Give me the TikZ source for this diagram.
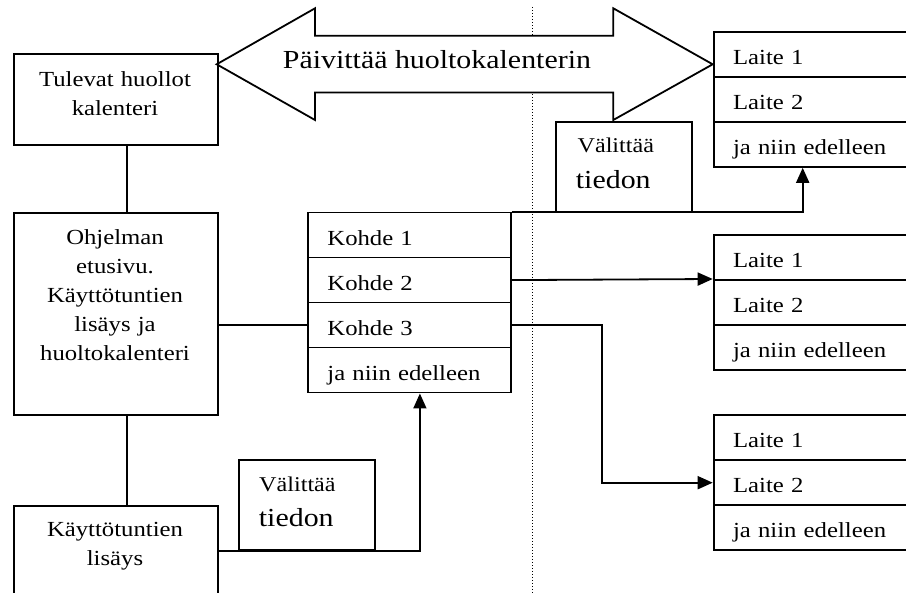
\documentclass[tikz,border=0pt]{standalone}
\usepackage{fontspec}
\setmainfont[FakeStretch=1.15]{Liberation Serif}
\usetikzlibrary{arrows.meta}
\newcommand\fntreg{\fontsize{21.5pt}{29pt}\selectfont}
\newcommand\fntsml{\fontsize{21pt}{25pt}\selectfont}
\newcommand\fntbig{\fontsize{26pt}{31pt}\selectfont}
\begin{document}
\begin{tikzpicture}[x=1pt,y=-1pt,line width=1.8pt,
  box/.style={draw,rectangle,inner sep=0pt,anchor=north west},
  cell/.style={draw,rectangle,anchor=north west,inner xsep=19.5pt,inner ysep=0pt,
    minimum height=45pt,text height=20pt,text depth=0pt,align=left,font=\fntreg},
  txt/.style={inner sep=0pt,text width=200pt,align=center,anchor=base,font=\fntreg},
  lbl/.style={inner sep=0pt,anchor=base west},
  arr/.style={-{Triangle[length=15pt,width=13pt]}}]
\useasboundingbox (0,0) rectangle (906,593);
\clip (0,0) rectangle (906,593);
% dotted divider
\coordinate (dtop) at (532.3,7);
\coordinate (dbot) at (532.3,600);
\draw[dotted,line width=1pt] (dtop) -- (dbot);
% big double arrow
\draw[fill=white] (216.7,64.3) -- (315,8.3) -- (315,35.7) -- (613.3,35.7) -- (613.3,8.3)
  -- (712.7,64.3) -- (613.3,120) -- (613.3,92.5) -- (315,92.5) -- (315,120) -- cycle;
\node[lbl,font=\fntbig] (ptxt) at (282,69) {Päivittää huoltokalenterin};
% left boxes
\node[box,minimum width=204pt,minimum height=91pt] (tul) at (13,53) {};
\node[box,minimum width=204pt,minimum height=202pt] (ohj) at (13,212) {};
\node[box,minimum width=204pt,minimum height=120pt] (kay) at (13,505) {};
\node[txt] (tult) at (115,87) {Tulevat huollot\\kalenteri};
\node[txt] (ohjt) at (115,245) {Ohjelman\\etusivu.\\Käyttötuntien\\lisäys ja\\huoltokalenteri};
\node[txt] (kayt) at (115,537) {Käyttötuntien\\lisäys};
% Välittää boxes
\node[box,minimum width=136pt,minimum height=90pt] (vt) at (555,121) {};
\node[box,minimum width=136pt,minimum height=90pt] (vb) at (238.3,459.3) {};
\node[lbl,font=\fntsml] (vt1) at (576.7,152.7) {Välittää};
\node[lbl,font=\fntbig] (vt2) at (575,188.3) {tiedon};
\node[lbl,font=\fntsml] (vb1) at (258.3,491.7) {Välittää};
\node[lbl,font=\fntbig] (vb2) at (258,526.7) {tiedon};
% Kohde list
\node[cell,text width=164pt] (k1) at (307,211.7) {Kohde 1};
\node[cell,text width=164pt] (k2) at (307,256.7) {Kohde 2};
\node[cell,text width=164pt] (k3) at (307,301.7) {Kohde 3};
\node[cell,text width=164pt] (k4) at (307,346.7) {ja niin edelleen};
% Laite lists
\node[cell,text width=200pt] (L1a) at (712.7,31) {Laite 1};
\node[cell,text width=200pt] (L1b) at (712.7,76) {Laite 2};
\node[cell,text width=200pt] (L1c) at (712.7,121) {ja niin edelleen};
\node[cell,text width=200pt] (L2a) at (712.7,234) {Laite 1};
\node[cell,text width=200pt] (L2b) at (712.7,279) {Laite 2};
\node[cell,text width=200pt] (L2c) at (712.7,324) {ja niin edelleen};
\node[cell,text width=200pt] (L3a) at (712.7,414.3) {Laite 1};
\node[cell,text width=200pt] (L3b) at (712.7,459.3) {Laite 2};
\node[cell,text width=200pt] (L3c) at (712.7,504.3) {ja niin edelleen};
% connectors
\draw ([xshift=11pt]tul.south) -- ([xshift=11pt]ohj.north);
\draw ([xshift=11pt]ohj.south) -- ([xshift=11pt]kay.north);
\draw (ohj.east |- k3.west) -- (k3.west);
\draw[arr] (vb.south -| kay.east) -| ([xshift=10.5pt]k4.south);
\draw[arr] (k1.north east) -| ([xshift=90pt]L1c.south west);
\draw[arr] (k2.east) -- (L2b.north west);
\draw[arr] (k3.east) -- ([xshift=90pt]k3.east) |- (L3b.west);
\end{tikzpicture}
\end{document}
